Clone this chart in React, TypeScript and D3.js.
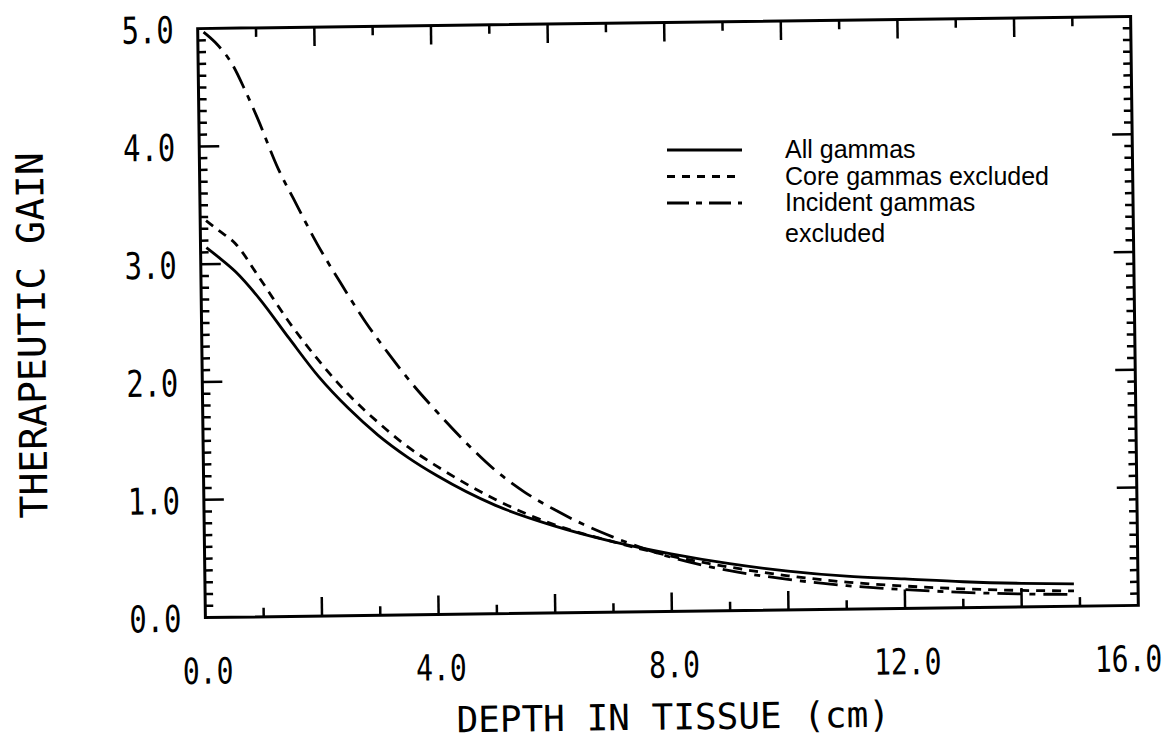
import React, { useEffect, useRef } from 'react';
import * as d3 from 'd3';

// All gammas (solid)
const allDepth = [0.1, 0.3, 0.6, 1.0, 1.5, 2.0, 2.5, 3.0, 3.5, 4.0, 5.0, 6.0, 7.0, 8.0, 9.0, 10.0, 11.0, 12.0, 13.0, 14.0, 14.9];
const allGain = [3.14, 3.06, 2.93, 2.70, 2.36, 2.03, 1.76, 1.53, 1.34, 1.18, 0.92, 0.74, 0.60, 0.49, 0.40, 0.33, 0.28, 0.25, 0.22, 0.20, 0.19];

// Core gammas excluded (short dash)
const coreDepth = [0.1, 0.3, 0.6, 1.0, 1.5, 2.0, 2.5, 3.0, 3.5, 4.0, 5.0, 6.0, 7.0, 8.0, 9.0, 10.0, 11.0, 12.0, 13.0, 14.0, 14.9];
const coreGain = [3.37, 3.29, 3.17, 2.88, 2.50, 2.17, 1.88, 1.64, 1.43, 1.26, 0.97, 0.75, 0.60, 0.47, 0.37, 0.29, 0.23, 0.19, 0.16, 0.14, 0.13];

// Incident gammas excluded (long dash - short dash)
const incDepth = [0.1, 0.3, 0.6, 0.8, 1.0, 1.35, 1.6, 2.0, 2.4, 2.8, 3.2, 3.6, 4.0, 4.5, 5.0, 5.5, 6.0, 6.5, 7.0, 8.0, 9.0, 10.0, 11.0, 12.0, 13.0, 14.0, 14.9];
const incGain = [4.97, 4.88, 4.68, 4.47, 4.24, 3.80, 3.55, 3.16, 2.82, 2.50, 2.22, 1.96, 1.73, 1.46, 1.22, 1.03, 0.88, 0.75, 0.64, 0.46, 0.34, 0.26, 0.20, 0.16, 0.13, 0.11, 0.10];

const xLabels = [0, 4, 8, 12, 16];
const yLabels = [0, 1, 2, 3, 4, 5];

const legendItems = [
  { text: ['All gammas'], dash: null },
  { text: ['Core gammas excluded'], dash: '8,7' },
  { text: ['Incident gammas', 'excluded'], dash: '22,7,6,7' },
];

const plotFont = "'DejaVu Sans Mono', monospace";

export default function App() {
  const svgRef = useRef<SVGSVGElement>(null);

  useEffect(() => {
    const svg = d3.select(svgRef.current);
    svg.selectAll('*').remove();

    const width = 1170, height = 739;
    const margin = { top: 22.5, right: 35.5, bottom: 127.5, left: 201.5 };

    const x = d3.scaleLinear().domain([0, 16]).range([margin.left, width - margin.right]);
    const y = d3.scaleLinear().domain([0, 5]).range([height - margin.bottom, margin.top]);

    const cx = (x(0) + x(16)) / 2, cy = (y(0) + y(5)) / 2;
    // the scanned figure is tilted slightly
    const g = svg.append('g').attr('transform', `rotate(-0.75, ${cx}, ${cy})`);

    // frame
    g.append('rect')
      .attr('x', x(0)).attr('y', y(5))
      .attr('width', x(16) - x(0)).attr('height', y(0) - y(5))
      .attr('fill', 'none').attr('stroke', '#000').attr('stroke-width', 3);

    // x ticks (bottom + top)
    const xt = d3.range(1, 16, 1);
    xt.forEach(v => {
      const len = v % 2 === 0 ? 19 : 9;
      g.append('line').attr('x1', x(v)).attr('x2', x(v)).attr('y1', y(0)).attr('y2', y(0) - len)
        .attr('stroke', '#000').attr('stroke-width', 2.5);
      g.append('line').attr('x1', x(v)).attr('x2', x(v)).attr('y1', y(5)).attr('y2', y(5) + len)
        .attr('stroke', '#000').attr('stroke-width', 2.5);
    });

    // y ticks (left + right)
    const yt = d3.range(1, 50, 1);
    yt.forEach(i => {
      const v = i / 10;
      const len = i % 10 === 0 ? 20 : 8;
      g.append('line').attr('x1', x(0)).attr('x2', x(0) + len).attr('y1', y(v)).attr('y2', y(v))
        .attr('stroke', '#000').attr('stroke-width', 2.5);
      g.append('line').attr('x1', x(16)).attr('x2', x(16) - len).attr('y1', y(v)).attr('y2', y(v))
        .attr('stroke', '#000').attr('stroke-width', 2.5);
    });

    // tick labels (plotter font is narrow: squeeze horizontally)
    const fmt = d3.format('.1f');
    g.selectAll('text.xl')
      .data(xLabels)
      .join('text')
      .attr('class', 'xl')
      .attr('transform', d => `translate(${Math.min(x(d) + 2, width - 46)}, ${y(0) + 66}) scale(0.78, 1)`)
      .attr('text-anchor', 'middle')
      .style('font-family', plotFont)
      .style('font-size', '36px')
      .text(d => fmt(d));

    g.selectAll('text.yl')
      .data(yLabels)
      .join('text')
      .attr('class', 'yl')
      .attr('transform', d => `translate(${x(0) - 24}, ${y(d) + 14}) scale(0.78, 1)`)
      .attr('text-anchor', 'end')
      .style('font-family', plotFont)
      .style('font-size', '37px')
      .text(d => fmt(d));

    // axis titles
    g.append('text')
      .attr('x', cx)
      .attr('y', y(0) + 118)
      .attr('text-anchor', 'middle')
      .style('font-family', plotFont)
      .style('font-size', '36px')
      .text('DEPTH IN TISSUE (cm)');

    g.append('text')
      .attr('transform', `translate(45, ${cy + 10}) rotate(-90)`)
      .attr('text-anchor', 'middle')
      .style('font-family', plotFont)
      .style('font-size', '38px')
      .text('THERAPEUTIC GAIN');

    // curves
    const line = d3.line<[number, number]>()
      .x(d => x(d[0]))
      .y(d => y(d[1]))
      .curve(d3.curveMonotoneX);

    const series = [
      { pts: allDepth.map((d, i) => [d, allGain[i]] as [number, number]), dash: null },
      { pts: coreDepth.map((d, i) => [d, coreGain[i]] as [number, number]), dash: '9,7' },
      { pts: incDepth.map((d, i) => [d, incGain[i]] as [number, number]), dash: '24,8,6,8' },
    ];

    series.forEach(s => {
      g.append('path')
        .attr('d', line(s.pts))
        .attr('fill', 'none')
        .attr('stroke', '#000')
        .attr('stroke-width', 2.8)
        .attr('stroke-dasharray', s.dash)
        .attr('stroke-linecap', 'butt');
    });

    // legend
    const legend = svg.append('g').attr('transform', 'translate(667, 150)');
    legendItems.forEach((item, i) => {
      const row = legend.append('g').attr('transform', `translate(0, ${i * 26.5})`);
      row.append('line')
        .attr('x1', 0).attr('x2', 75).attr('y1', 0).attr('y2', 0)
        .attr('stroke', '#000').attr('stroke-width', 2.8)
        .attr('stroke-dasharray', item.dash);
      item.text.forEach((t, j) => {
        row.append('text')
          .attr('x', 118)
          .attr('y', 8 + j * 31)
          .style('font-family', "'Liberation Sans', Arial, sans-serif")
          .style('font-size', '25px')
          .text(t);
      });
    });
  }, []);

  return (
    <svg
      ref={svgRef}
      width={1170}
      height={739}
      style={{ position: 'absolute', left: 0, top: 0, background: '#fff' }}
    />
  );
}
